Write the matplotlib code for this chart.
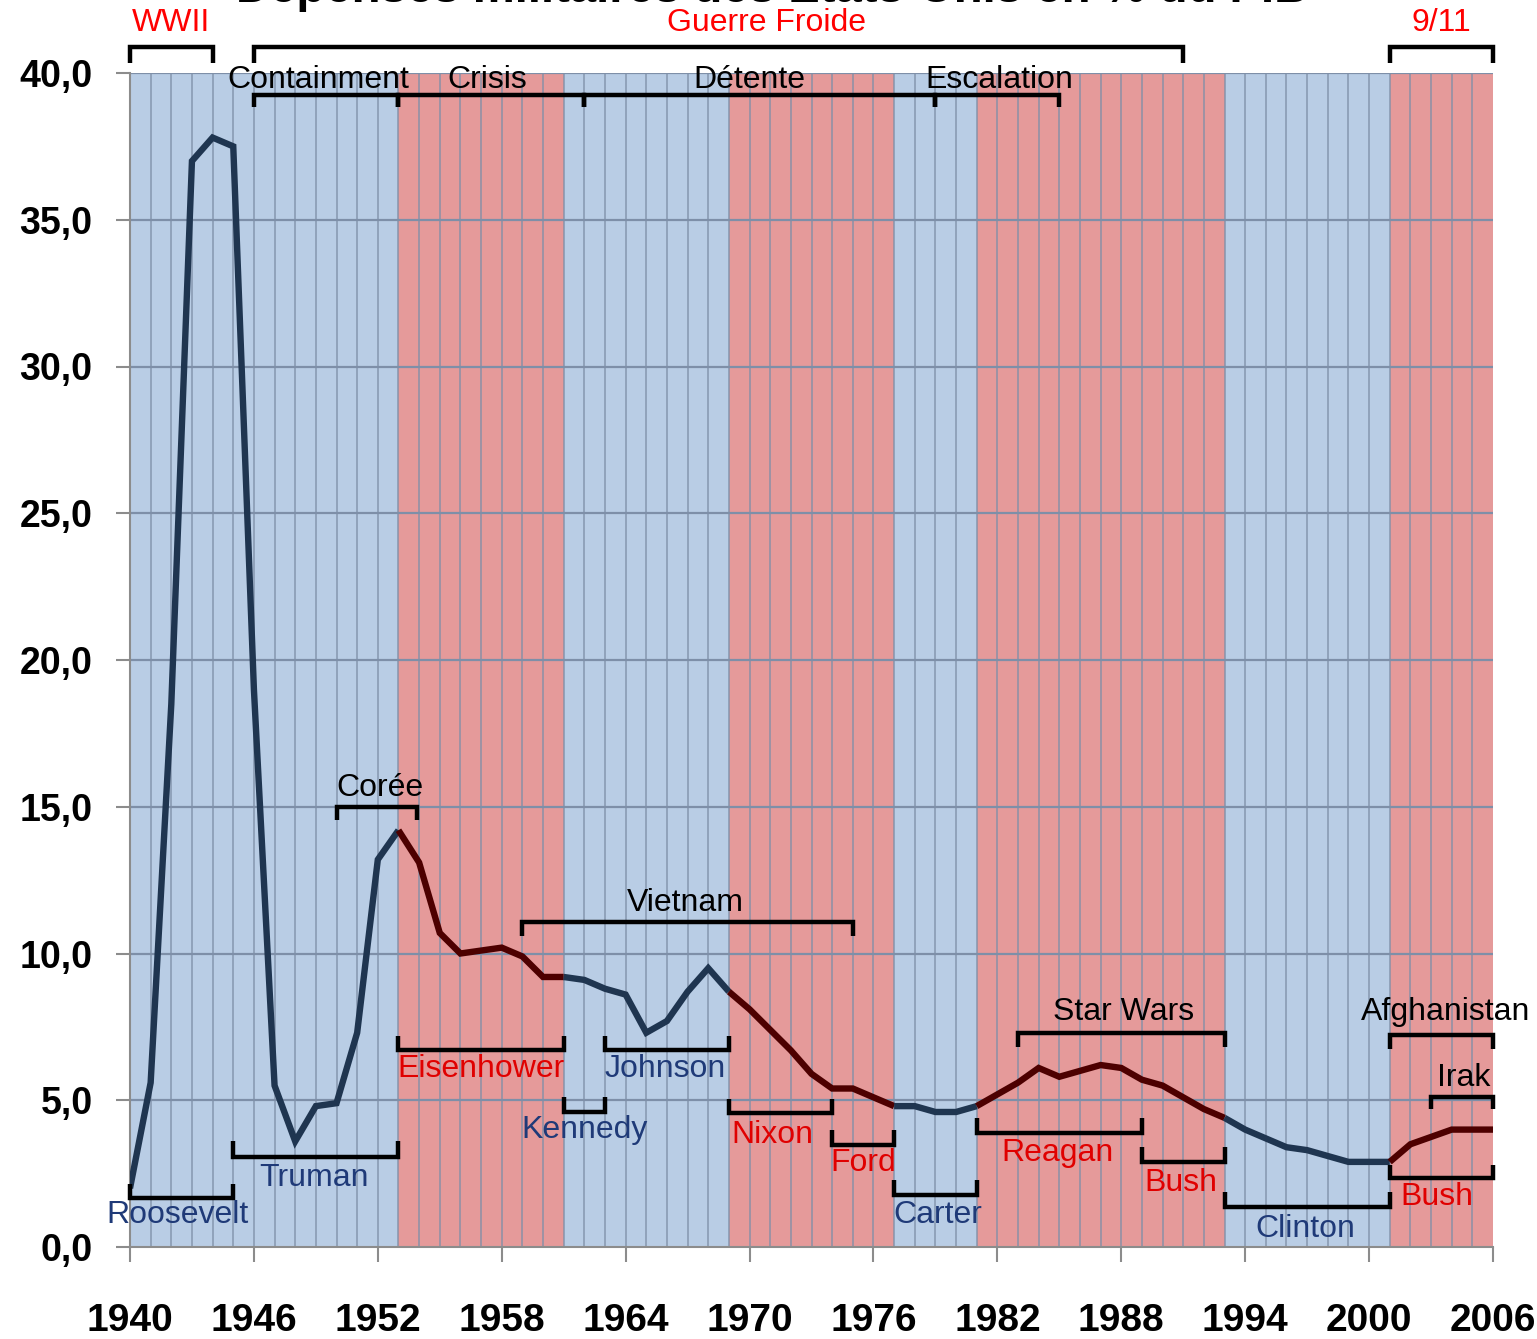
import matplotlib
matplotlib.use("Agg")
import matplotlib.pyplot as plt
from matplotlib.ticker import FuncFormatter, FixedLocator, MultipleLocator

# ---------------------------------------------------------------------------
# Data
# ---------------------------------------------------------------------------

YEARS = list(range(1940, 2007))
DEFENSE_PCT_GDP = [
    2.0, 5.6, 18.5, 37.0, 37.8, 37.5, 19.0, 5.5, 3.6, 4.8,     # 1940-1949
    4.9, 7.3, 13.2, 14.2, 13.1, 10.7, 10.0, 10.1, 10.2, 9.9,   # 1950-1959
    9.2, 9.2, 9.1, 8.8, 8.6, 7.3, 7.7, 8.7, 9.5, 8.7,          # 1960-1969
    8.1, 7.4, 6.7, 5.9, 5.4, 5.4, 5.1, 4.8, 4.8, 4.6,          # 1970-1979
    4.6, 4.8, 5.2, 5.6, 6.1, 5.8, 6.0, 6.2, 6.1, 5.7,          # 1980-1989
    5.5, 5.1, 4.7, 4.4, 4.0, 3.7, 3.4, 3.3, 3.1, 2.9,          # 1990-1999
    2.9, 2.9, 3.5, 3.75, 4.0, 4.0, 4.0,                         # 2000-2006
]
XTICKS = list(range(1940, 2007, 6))

# party in the White House
PERIOD_START = [1940, 1953, 1961, 1969, 1977, 1981, 1993, 2001]
PERIOD_END = [1953, 1961, 1969, 1977, 1981, 1993, 2001, 2006]
PERIOD_PARTY = ["D", "R", "D", "R", "D", "R", "D", "R"]

PRESIDENTS = ["Roosevelt", "Truman", "Eisenhower", "Kennedy", "Johnson", "Nixon",
              "Ford", "Carter", "Reagan", "Bush", "Clinton", "Bush"]
PRES_START = [1940, 1945, 1953, 1961, 1963, 1969, 1974, 1977, 1981, 1989, 1993, 2001]
PRES_END = [1945, 1953, 1961, 1963, 1969, 1974, 1977, 1981, 1989, 1993, 2001, 2006]
PRES_PARTY = ["D", "D", "R", "D", "D", "R", "R", "D", "R", "R", "D", "R"]

EVENTS = ["WWII", "Guerre Froide", "9/11", "Containment", "Crisis", "Détente",
          "Escalation", "Corée", "Vietnam", "Star Wars", "Afghanistan", "Irak"]
EVENT_START = [1940, 1946, 2001, 1946, 1953, 1962, 1979, 1950, 1959, 1983, 2001, 2003]
EVENT_END = [1944, 1991, 2006, 1953, 1962, 1979, 1985, 1953.9, 1975, 1993, 2006, 2006]

TITLE = "Dépenses militaires des États-Unis en % du PIB"

# ---------------------------------------------------------------------------
# Layout / style
# ---------------------------------------------------------------------------

BAND_COLOR = {"D": "#B9CDE5", "R": "#E59A9A"}
LINE_COLOR = {"D": "#1F3550", "R": "#4D0000"}
NAME_COLOR = {"D": "#1F3A78", "R": "#E00000"}
GRID_COLOR = "#7E8FA8"
NARROW = ["Liberation Sans Narrow", "Liberation Sans", "DejaVu Sans"]

# (bar y, leg y, label y) for president brackets (bar below, legs up)
PRES_POS = [
    (1.67, 2.15, 1.10), (3.07, 3.60, 2.35), (6.71, 7.20, 6.05),
    (4.60, 5.10, 4.00), (6.71, 7.20, 6.05), (4.57, 5.05, 3.80),
    (3.48, 4.00, 2.85), (1.77, 2.28, 1.08), (3.88, 4.40, 3.20),
    (2.90, 3.40, 2.18), (1.36, 1.87, 0.62), (2.35, 2.80, 1.70),
]
PRES_LABEL_X = [1942.3, 1948.9, 1957.0, 1962.0, 1965.9, 1971.1,
                1975.5, 1979.1, 1984.9, 1990.9, 1996.9, 2003.3]

# (bar y, leg y, label y, label x, colour) for event brackets (bar above, legs down)
EVENT_POS = [
    (40.90, 40.35, 41.70, 1942.0, "#FF0000"),
    (40.90, 40.35, 41.70, 1970.8, "#FF0000"),
    (40.90, 40.35, 41.70, 2003.5, "#FF0000"),
    (39.25, 38.85, 39.75, 1949.1, "black"),
    (39.25, 38.85, 39.75, 1957.3, "black"),
    (39.25, 38.85, 39.75, 1970.0, "black"),
    (39.25, 38.85, 39.75, 1982.1, "black"),
    (15.00, 14.55, 15.65, 1952.1, "black"),
    (11.07, 10.60, 11.72, 1966.9, "black"),
    (7.29, 6.80, 8.00, 1988.1, "black"),
    (7.22, 6.75, 8.00, 2003.7, "black"),
    (5.10, 4.70, 5.75, 2004.6, "black"),
]


def bracket(ax, x0, x1, ybar, yleg, lw=3.2):
    ax.plot([x0, x0, x1, x1], [yleg, ybar, ybar, yleg], color="black",
            lw=lw, solid_joinstyle="miter", solid_capstyle="butt",
            clip_on=False, zorder=4)


fig = plt.figure(figsize=(15.37, 13.39), dpi=100)
ax = fig.add_axes([130 / 1537, 1 - 1247 / 1339, 1363 / 1537, 1174 / 1339])
ax.set_xlim(1940, 2006)
ax.set_ylim(0, 40)

# party bands
for x0, x1, p in zip(PERIOD_START, PERIOD_END, PERIOD_PARTY):
    ax.axvspan(x0, x1, color=BAND_COLOR[p], lw=0, zorder=0)

# yearly vertical grid and horizontal grid
for yr in YEARS[1:-1]:
    ax.axvline(yr, color=GRID_COLOR, lw=1.3, alpha=0.75, zorder=1)
for v in range(5, 45, 5):
    ax.axhline(v, color=GRID_COLOR, lw=1.6, zorder=1)

# line, coloured by party
for x0, x1, p in zip(PERIOD_START, PERIOD_END, PERIOD_PARTY):
    i0, i1 = YEARS.index(x0), YEARS.index(x1)
    ax.plot(YEARS[i0:i1 + 1], DEFENSE_PCT_GDP[i0:i1 + 1], color=LINE_COLOR[p],
            lw=4.6, solid_joinstyle="miter", solid_capstyle="butt", zorder=3)

# president brackets
for name, s, e, p, (yb, yl, yt), lx in zip(PRESIDENTS, PRES_START, PRES_END,
                                          PRES_PARTY, PRES_POS, PRES_LABEL_X):
    bracket(ax, s, e, yb, yl)
    ax.text(lx, yt, name, color=NAME_COLOR[p], fontsize=23, family=NARROW,
            ha="center", va="center", zorder=5, clip_on=False)

# event brackets
for name, s, e, (yb, yl, yt, lx, c) in zip(EVENTS, EVENT_START, EVENT_END, EVENT_POS):
    bracket(ax, s, e, yb, yl)
    ax.text(lx, yt, name, color=c, fontsize=23, family=NARROW,
            ha="center", va="center", zorder=5, clip_on=False)

# axes styling
for side in ("top", "right"):
    ax.spines[side].set_visible(False)
for side in ("left", "bottom"):
    ax.spines[side].set_color("#8C8C8C")
    ax.spines[side].set_linewidth(1.5)

ax.xaxis.set_major_locator(FixedLocator(XTICKS))
ax.yaxis.set_major_locator(MultipleLocator(5))
ax.xaxis.set_major_formatter(FuncFormatter(lambda v, _: f"{v:.0f}"))
ax.yaxis.set_major_formatter(FuncFormatter(lambda v, _: f"{v:.1f}".replace(".", ",")))
ax.tick_params(axis="x", direction="out", length=11, width=1.5, color="#8C8C8C", pad=29)
ax.tick_params(axis="y", direction="out", length=10, width=1.5, color="#8C8C8C", pad=17)
for lab in ax.get_xticklabels():
    lab.set_family(NARROW)
    lab.set_fontweight("bold")
    lab.set_fontsize(28)
for lab in ax.get_yticklabels():
    lab.set_family(["Liberation Sans", "DejaVu Sans"])
    lab.set_fontweight("bold")
    lab.set_fontsize(27)

# title, cut off at the top edge as in the source image
fig.text(772 / 1537, 1 - 2 / 1339, TITLE, ha="center", va="baseline",
         fontsize=34, fontweight="bold", family=["Liberation Sans", "DejaVu Sans"])

fig.savefig("out.png", dpi=100)
